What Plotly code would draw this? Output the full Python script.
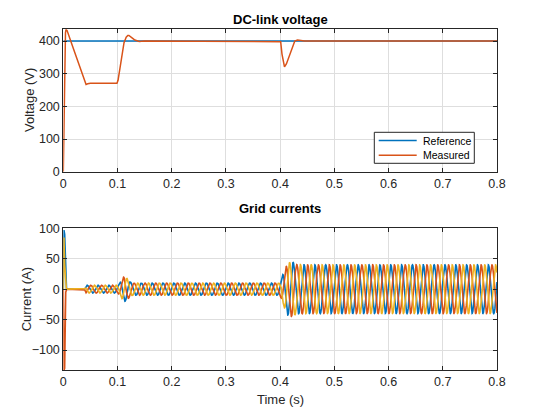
import numpy as np
import plotly.graph_objects as go

# ---------------- data ----------------
# DC-link voltage
ref_t = [0.0, 0.8]
ref_v = [400, 400]

meas_t = [0.0, 0.001, 0.002, 0.003, 0.004, 0.005, 0.007, 0.02, 0.038, 0.040, 0.042, 0.045,
          0.05, 0.07, 0.099, 0.101, 0.104, 0.108, 0.112, 0.116, 0.119, 0.121, 0.124,
          0.128, 0.132, 0.136, 0.14, 0.15, 0.2, 0.3, 0.4, 0.401, 0.4034, 0.4065, 0.408,
          0.4115, 0.4188, 0.427, 0.432, 0.438, 0.445, 0.6, 0.8]
meas_v = [0, 120, 260, 380, 425, 436, 432, 370, 285, 272, 267, 269,
          271, 271, 271, 280, 315, 360, 395, 412, 417, 417, 414,
          408, 403, 400, 399, 400, 400, 400, 400, 398, 360, 325, 321,
          330, 365, 400, 403, 402, 400, 400, 400]
series_names = ["Reference", "Measured"]

# Grid currents: start-up spike values per phase
spike_t = [0.0, 0.0012, 0.0025, 0.0045, 0.005]
ia_spike = [0, 97, 90, 5, 0]
ib_spike = [0, -133, -130, -5, 0]
ic_spike = [0, 85, 40, 0, 0]

# Grid currents: amplitude envelope (A)
env_t = [0.005, 0.039, 0.042, 0.100, 0.105, 0.112, 0.118, 0.125, 0.130, 0.400,
         0.405, 0.413, 0.422, 0.430, 0.450, 0.800]
env_a = [0, 0, 6.5, 6.5, 12, 21, 17, 11, 10, 10,
         25, 42, 45, 40.5, 40, 40]
grid_freq = 50.0
phase_shift = [0.3, 0.3 - 2 * np.pi / 3, 0.3 + 2 * np.pi / 3]

x_ticks = [0, 0.1, 0.2, 0.3, 0.4, 0.5, 0.6, 0.7, 0.8]
x_tick_labels = ["0", "0.1", "0.2", "0.3", "0.4", "0.5", "0.6", "0.7", "0.8"]
v_ticks = [0, 100, 200, 300, 400]
i_ticks = [-100, -50, 0, 50, 100]

# ---------------- build ----------------
BLUE, ORANGE, YELLOW = "#0072BD", "#D95319", "#EDB120"
AXC = "#262626"
FONT = "Liberation Sans, Arial, Helvetica, sans-serif"

W, H = 541, 408
def px(x):
    return x / W
def py(y):
    return 1 - y / H

xd = [px(63.3), px(497)]
yd_top = [py(171.7), py(29.3)]
yd_bot = [py(370.3), py(228.3)]

fig = go.Figure()
fig.add_trace(go.Scatter(x=ref_t, y=ref_v, mode="lines", name=series_names[0], showlegend=False,
                         line=dict(color=BLUE, width=1.5), xaxis="x", yaxis="y"))
fig.add_trace(go.Scatter(x=meas_t, y=meas_v, mode="lines", name=series_names[1], showlegend=False,
                         line=dict(color=ORANGE, width=1.5), xaxis="x", yaxis="y"))

t = np.arange(0.005, 0.8001, 0.0001)
amp = np.interp(t, env_t, env_a)
spikes = [ia_spike, ib_spike, ic_spike]
for k, col in enumerate([BLUE, ORANGE, YELLOW]):
    wave = amp * np.sin(2 * np.pi * grid_freq * t + phase_shift[k])
    xs = np.concatenate([spike_t[:-1], t])
    ys = np.concatenate([spikes[k][:-1], wave])
    fig.add_trace(go.Scatter(x=xs, y=ys, mode="lines", showlegend=False,
                             line=dict(color=col, width=1.6), xaxis="x2", yaxis="y2"))

axis_common = dict(showline=True, linecolor=AXC, linewidth=1, mirror="ticks",
                   ticks="inside", ticklen=4, tickcolor=AXC, showgrid=True,
                   gridcolor="#dedede", gridwidth=1, zeroline=False, automargin=False,
                   tickfont=dict(family=FONT, size=12.5, color=AXC))

fig.update_layout(
    width=W, height=H, margin=dict(l=0, r=0, t=0, b=0, autoexpand=False),
    paper_bgcolor="white", plot_bgcolor="white", showlegend=False,
    xaxis=dict(domain=xd, anchor="y", range=[0, 0.8], tickvals=x_ticks,
               ticktext=x_tick_labels, **axis_common),
    yaxis=dict(domain=yd_top, anchor="x", range=[0, 436], tickvals=v_ticks, **axis_common),
    xaxis2=dict(domain=xd, anchor="y2", range=[0, 0.8], tickvals=x_ticks,
                ticktext=x_tick_labels, **axis_common),
    yaxis2=dict(domain=yd_bot, anchor="x2", range=[-133.3, 100], tickvals=i_ticks, **axis_common),
)

# titles and axis labels
for txt, xc, yc in [("<b>DC-link voltage</b>", 280.2, 19.5), ("<b>Grid currents</b>", 280.2, 208.5)]:
    fig.add_annotation(text=txt, x=px(xc), y=py(yc), xref="paper", yref="paper",
                       showarrow=False, xanchor="center", yanchor="middle",
                       font=dict(family=FONT, size=13, color="black"))
fig.add_annotation(text="Time (s)", x=px(280.2), y=py(399.5), xref="paper", yref="paper",
                   showarrow=False, xanchor="center", yanchor="middle",
                   font=dict(family=FONT, size=13, color=AXC))
for txt, xp, yp in [("Voltage (V)", 29.5, (29.3 + 171.7) / 2), ("Current (A)", 26, (228.3 + 370.3) / 2)]:
    fig.add_annotation(text=txt, x=px(xp), y=py(yp), xref="paper", yref="paper",
                       showarrow=False, textangle=-90, xanchor="center", yanchor="middle",
                       font=dict(family=FONT, size=13, color=AXC))

# legend box (MATLAB style)
fig.add_shape(type="rect", xref="paper", yref="paper", x0=px(374.3), x1=px(474.3),
              y0=py(163.3), y1=py(132.3), line=dict(color=AXC, width=1), fillcolor="white",
              layer="above")
for name, col, yl in [(series_names[0], BLUE, 140.5), (series_names[1], ORANGE, 155.3)]:
    fig.add_shape(type="line", xref="paper", yref="paper", x0=px(378.7), x1=px(416.7),
                  y0=py(yl), y1=py(yl), line=dict(color=col, width=1.5), layer="above")
    fig.add_annotation(text=name, x=px(420.5), y=py(yl), xref="paper", yref="paper",
                       showarrow=False, xanchor="left", yanchor="middle",
                       font=dict(family=FONT, size=10.5, color="black"))

fig.write_html("out.html", config={"displayModeBar": False})

# remove the browser's default page margin so the figure fills the window exactly
with open("out.html", "r", encoding="utf-8") as fh:
    html = fh.read()
html = html.replace("<head>", "<head><style>html,body{margin:0;padding:0;overflow:hidden;}</style>", 1)
with open("out.html", "w", encoding="utf-8") as fh:
    fh.write(html)
